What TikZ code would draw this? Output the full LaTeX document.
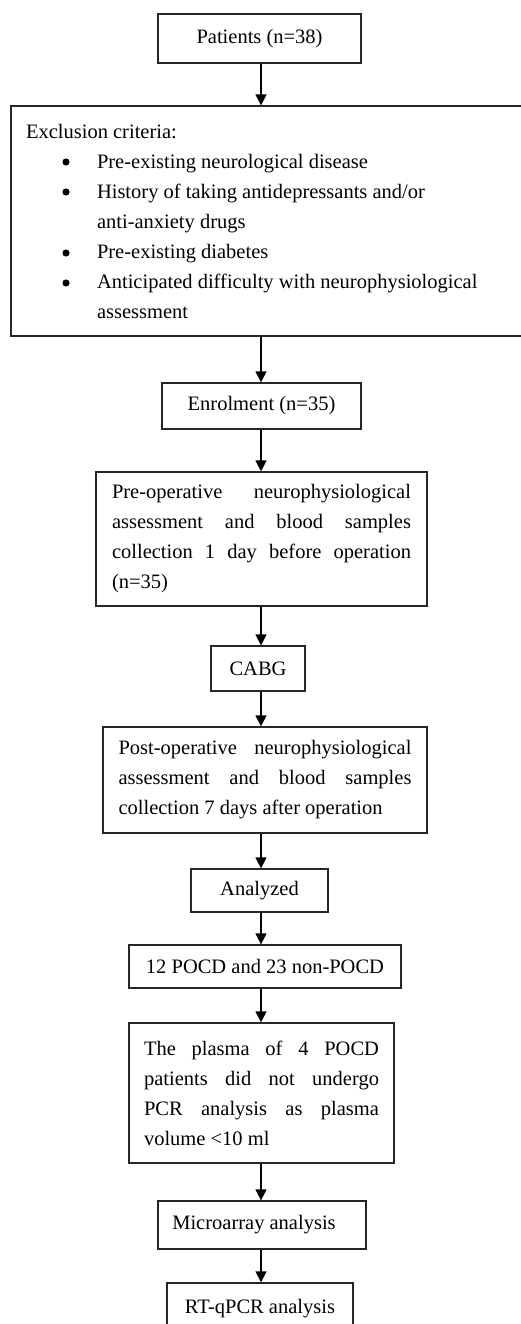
\documentclass[tikz,border=0pt]{standalone}
\usepackage{fontspec}
\setmainfont{Liberation Serif}
\usetikzlibrary{arrows.meta}
\newcommand\jline[2]{\leavevmode\hbox to #1{#2}}
\newcommand\ind{\hspace*{71pt}}
\begin{document}
\begin{tikzpicture}[x=1pt,y=-1pt,
  box/.style={draw=black!85, line width=1.3pt, rectangle, inner sep=0pt,
    font=\fontsize{20.5}{30}\selectfont},
  para/.style={box, align=left, execute at begin node={\spaceskip=0pt\xspaceskip=0pt}},
  dot/.style={fill=black},
  arr/.style={draw=black, line width=1.4pt, -{Triangle[length=11pt,width=11pt]}}]
\useasboundingbox (0,0) rectangle (521,1324);
\clip (0,0) rectangle (521,1324);
\fill[white] (0,0) rectangle (521,1324);
\coordinate (ax) at (261,0);

\node[box, minimum width=203pt, minimum height=49pt] (pat) at (259.5,38.5) {Patients (n=38)};

\node[para, minimum width=519pt, minimum height=230pt, text width=489pt] (exc) at (270.5,221)
{Exclusion criteria:\\
\ind Pre-existing neurological disease\\
\ind History of taking antidepressants and/or\\
\ind anti-anxiety drugs\\
\ind Pre-existing diabetes\\
\ind Anticipated difficulty with neurophysiological\\
\ind assessment};
\foreach \yy in {162,192,253,283} \fill[dot] (66,\yy) circle (3.6pt);

\node[box, minimum width=199pt, minimum height=46pt] (enr) at (261.5,406) {Enrolment (n=35)};

\node[para, minimum width=331pt, minimum height=134pt, text width=299pt] (pre) at (261.5,539)
{\jline{299pt}{Pre-operative\hfill neurophysiological}\\
\jline{299pt}{assessment\hfill and\hfill blood\hfill samples}\\
\jline{299pt}{collection\hfill 1\hfill day\hfill before\hfill operation}\\
(n=35)};

\node[box, minimum width=94pt, minimum height=45pt] (cabg) at (258,668.5) {CABG};

\node[para, minimum width=324pt, minimum height=106pt, text width=293pt] (post) at (265,780)
{\jline{293pt}{Post-operative\hfill neurophysiological}\\
\jline{293pt}{assessment\hfill and\hfill blood\hfill samples}\\
collection 7 days after operation};

\node[box, minimum width=137pt, minimum height=43pt] (ana) at (259.5,890.5) {Analyzed};

\node[box, minimum width=272pt, minimum height=43pt] (poc) at (265,966.5) {12 POCD and 23 non-POCD};

\node[para, minimum width=265pt, minimum height=140pt, text width=235pt] (pla) at (261.5,1093)
{\jline{235pt}{The\hfill plasma\hfill of\hfill 4\hfill POCD}\\
\jline{235pt}{patients\hfill did\hfill not\hfill undergo}\\
\jline{235pt}{PCR\hfill analysis\hfill as\hfill plasma}\\
volume <10 ml};

\node[box, minimum width=208pt, minimum height=48pt] (mic) at (262,1225) {\hspace*{-16pt}Microarray analysis};

\node[box, minimum width=186pt, minimum height=48pt, text depth=0pt] (rt) at (260,1307) {\raisebox{1pt}{RT-qPCR analysis}};

\draw[arr] (pat.south -| ax) -- (exc.north -| ax);
\draw[arr] (exc.south -| ax) -- (enr.north -| ax);
\draw[arr] (enr.south -| ax) -- (pre.north -| ax);
\draw[arr] (pre.south -| ax) -- (cabg.north -| ax);
\draw[arr] (cabg.south -| ax) -- (post.north -| ax);
\draw[arr] (post.south -| ax) -- (ana.north -| ax);
\draw[arr] (ana.south -| ax) -- (poc.north -| ax);
\draw[arr] (poc.south -| ax) -- (pla.north -| ax);
\draw[arr] (pla.south -| ax) -- (mic.north -| ax);
\draw[arr] (mic.south -| ax) -- (rt.north -| ax);
\end{tikzpicture}
\end{document}
